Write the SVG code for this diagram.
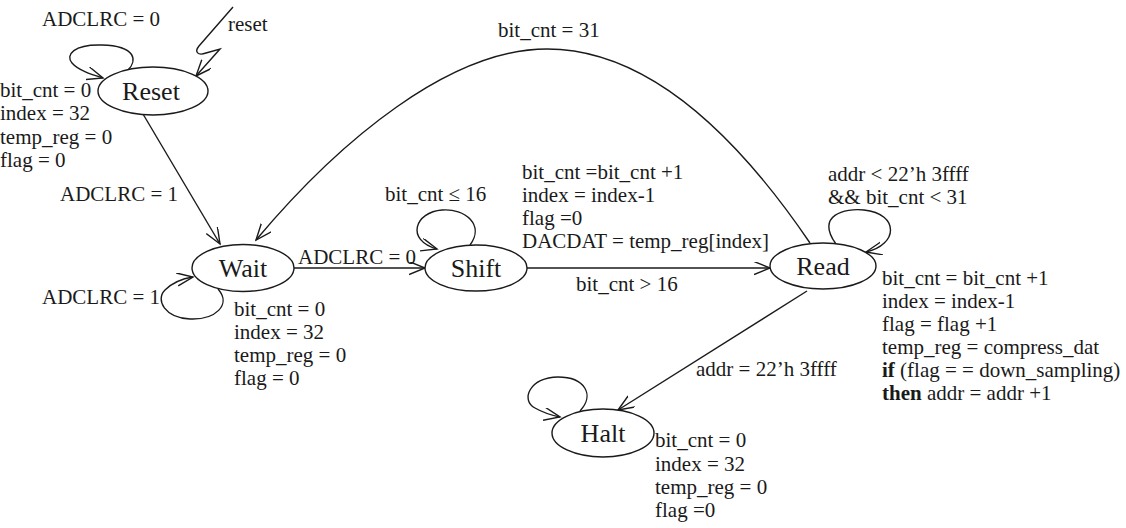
<svg xmlns="http://www.w3.org/2000/svg" width="1126" height="528" viewBox="0 0 1126 528" font-family="'Liberation Serif', 'Times New Roman', serif">
<style>
text{font-family:'Liberation Serif','Times New Roman',serif;fill:#1a1a1a}
.t{font-family:'Liberation Serif','Times New Roman',serif;font-size:21px}
.n{font-family:'Liberation Serif','Times New Roman',serif;font-size:26px;text-anchor:middle}
.s{fill:#fff;stroke:#1a1a1a;stroke-width:1.4}
.c{fill:none;stroke:#1a1a1a;stroke-width:1.4;marker-end:url(#ah)}
.b{font-weight:bold}
</style>
<defs>
<marker id="ah" markerUnits="userSpaceOnUse" markerWidth="18" markerHeight="14" refX="16" refY="6.5" orient="auto">
<path d="M0,0 L16,6.5 L0,13" fill="none" stroke="#1a1a1a" stroke-width="1.4"/>
</marker>
</defs>
<rect width="1126" height="528" fill="#fff"/>
<g id="connectors">
<path class="c" d="M233,7 L199,46 C194,52 198,56 206,53 L220,49 L196,76"/>
<path class="c" d="M128,70 C137,61 137,46 102,45 C74,44 65,55 72,63 C78,70 90,74 103,78"/>
<path class="c" d="M143,114 L220,244"/>
<path class="c" d="M810,243 C740,140 650,49 547,49 C450,49 340,140 256,240"/>
<path class="c" d="M218,289 C232,305 215,320 190,319 C165,318 155,300 165,290 C172,283 180,279 193,277"/>
<path class="c" d="M294,268 L425,268"/>
<path class="c" d="M470,245 C485,225 465,208 442,210 C415,212 405,240 437,249"/>
<path class="c" d="M527,268 L770,268"/>
<path class="c" d="M836,244 C815,215 845,208 864,210 C900,214 898,245 866,252"/>
<path class="c" d="M807,291 L618,410"/>
<path class="c" d="M580,411 C595,395 585,377 558,377 C530,377 520,400 535,408 C542,412 550,415 560,417"/>
</g>
<g id="labels">
<text class="t" x="42" y="26">ADCLRC = 0</text>
<text class="t" x="228" y="31">reset</text>
<text class="t" x="60" y="201">ADCLRC = 1</text>
<text class="t" x="498" y="37">bit_cnt = 31</text>
<text class="t" x="42" y="304">ADCLRC = 1</text>
<text class="t" x="298" y="264">ADCLRC = 0</text>
<text class="t" x="385" y="201">bit_cnt ≤ 16</text>
<text class="t" x="576" y="291">bit_cnt &gt; 16</text>
<text class="t" x="828" y="181">addr &lt; 22’h 3ffff</text>
<text class="t" x="828" y="204">&amp;&amp; bit_cnt &lt; 31</text>
<text class="t" x="696" y="376">addr = 22’h 3ffff</text>
<text class="t" x="522" y="179">bit_cnt =bit_cnt +1</text>
<text class="t" x="522" y="202">index = index-1</text>
<text class="t" x="522" y="225">flag =0</text>
<text class="t" x="522" y="248">DACDAT = temp_reg[index]</text>
</g>
<g id="reset">
<ellipse class="s" cx="153" cy="91" rx="55" ry="24"/>
<text class="n" x="151" y="100">Reset</text>
<text class="t" x="0" y="97">bit_cnt = 0</text>
<text class="t" x="0" y="120">index = 32</text>
<text class="t" x="0" y="144">temp_reg = 0</text>
<text class="t" x="0" y="167">flag = 0</text>
</g>
<g id="wait">
<ellipse class="s" cx="243" cy="268" rx="51" ry="23.5"/>
<text class="n" x="243" y="277">Wait</text>
<text class="t" x="234" y="316">bit_cnt = 0</text>
<text class="t" x="234" y="339">index = 32</text>
<text class="t" x="234" y="362">temp_reg = 0</text>
<text class="t" x="234" y="385">flag = 0</text>
</g>
<g id="shift">
<ellipse class="s" cx="476" cy="268" rx="51" ry="23"/>
<text class="n" x="476" y="277">Shift</text>
</g>
<g id="read">
<ellipse class="s" cx="823" cy="266" rx="53" ry="23"/>
<text class="n" x="823" y="275">Read</text>
<text class="t" x="882" y="285">bit_cnt = bit_cnt +1</text>
<text class="t" x="882" y="308">index = index-1</text>
<text class="t" x="882" y="331">flag = flag +1</text>
<text class="t" x="882" y="354">temp_reg = compress_dat</text>
<text class="t" x="882" y="377"><tspan class="b">if</tspan> (flag = = down_sampling)</text>
<text class="t" x="882" y="400"><tspan class="b">then</tspan> addr = addr +1</text>
</g>
<g id="halt">
<ellipse class="s" cx="603" cy="433" rx="51" ry="24"/>
<text class="n" x="603" y="442">Halt</text>
<text class="t" x="655" y="447">bit_cnt = 0</text>
<text class="t" x="655" y="471">index = 32</text>
<text class="t" x="655" y="494">temp_reg = 0</text>
<text class="t" x="655" y="517">flag =0</text>
</g>
</svg>
